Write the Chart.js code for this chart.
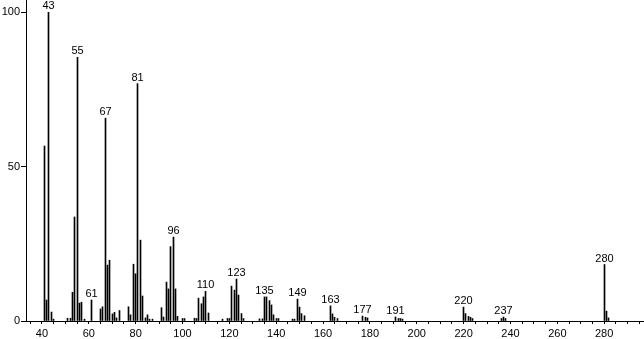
<!DOCTYPE html>
<html>
<head>
<meta charset="utf-8">
<script src="https://cdn.jsdelivr.net/npm/chart.js@4/dist/chart.umd.min.js"></script>
<style>
  html, body { margin: 0; padding: 0; background: #fff; }
  #wrap { width: 644px; height: 339px; }
</style>
</head>
<body>
<div id="wrap"><canvas id="msChart" width="644" height="339"></canvas></div>
<script>
"use strict";

// m/z of each peak
const masses = [
  41, 42, 43, 44, 45, 51, 52, 53, 54, 55, 56, 57, 58, 61,
  65, 66, 67, 68, 69, 70, 71, 72, 73,
  77, 78, 79, 80, 81, 82, 83, 84, 85, 86, 87,
  91, 92, 93, 94, 95, 96, 97, 98, 100, 101,
  105, 106, 107, 108, 109, 110, 111, 117,
  119, 120, 121, 122, 123, 124, 125, 126,
  133, 134, 135, 136, 137, 138, 139, 140, 141,
  147, 148, 149, 150, 151, 152,
  163, 164, 165, 166, 177, 178, 179, 191, 192, 193, 194,
  220, 221, 222, 223, 224, 236, 237, 238, 280, 281, 282
];

// relative abundance (%)
const abundance = [
  56.7, 6.8, 100, 2.9, 0.6, 0.9, 0.9, 9.3, 33.7, 85.4, 5.8, 6.1, 0.6, 6.8,
  3.9, 4.6, 65.7, 18.1, 19.7, 2.3, 2.8, 1.0, 3.4,
  4.6, 2.0, 18.4, 15.3, 76.9, 26.2, 8.1, 1.0, 2.0, 0.6, 0.6,
  4.3, 1.3, 12.6, 10.4, 24.1, 27.2, 10.4, 1.5, 0.8, 0.8,
  0.9, 0.8, 7.4, 5.6, 7.8, 9.6, 2.6, 0.6,
  0.8, 0.8, 11.3, 10.0, 13.6, 8.4, 2.4, 0.8,
  0.7, 0.7, 7.8, 7.8, 6.6, 5.2, 2.0, 0.8, 0.8,
  0.6, 0.6, 7.1, 4.5, 2.4, 1.7,
  4.9, 2.3, 1.2, 0.8, 1.6, 1.2, 1.0, 1.3, 0.8, 0.8, 0.6,
  4.5, 2.4, 1.5, 1.2, 0.8, 0.8, 1.3, 0.8, 18.3, 3.2, 1.0
];

// peaks that get a m/z label
const labelledPeaks = [43, 55, 61, 67, 81, 96, 110, 123, 135, 149, 163, 177, 191, 220, 237, 280];

const xLabelTicks = [40, 60, 80, 100, 120, 140, 160, 180, 200, 220, 240, 260, 280];
const yLabelTicks = [0, 50, 100];

const FONT = "Liberation Sans, Arial, sans-serif";

// snap the 1px bars onto whole pixels so they stay crisp
const crispBars = {
  id: 'crispBars',
  beforeDatasetsDraw: (chart) => {
    chart.getDatasetMeta(0).data.forEach((bar) => {
      bar.x = Math.floor(bar.x) + 0.5;
    });
  }
};

const peakLabels = {
  id: 'peakLabels',
  afterDatasetsDraw: (chart) => {
    const ctx = chart.ctx;
    const xs = chart.scales.x;
    const ys = chart.scales.y;
    ctx.save();
    ctx.fillStyle = '#000';
    ctx.font = '11px ' + FONT;
    ctx.textAlign = 'center';
    ctx.textBaseline = 'alphabetic';
    labelledPeaks.forEach((m) => {
      const i = masses.indexOf(m);
      const px = Math.floor(xs.getPixelForValue(m)) + 0.5;
      const py = ys.getPixelForValue(abundance[i]);
      ctx.fillText(String(m), px, py - 3);
    });
    ctx.restore();
  }
};

const ctx = document.getElementById('msChart').getContext('2d');
const msChart = new Chart(ctx, {
  type: 'bar',
  data: {
    datasets: [{
      data: masses.map((m, i) => ({ x: m, y: abundance[i] })),
      backgroundColor: '#000',
      borderWidth: 0,
      barThickness: 1
    }]
  },
  options: {
    responsive: false,
    animation: false,
    layout: { padding: 0 },
    plugins: {
      legend: { display: false },
      tooltip: { enabled: false }
    },
    scales: {
      x: {
        type: 'linear',
        offset: false,
        min: 33.2,
        max: 297,
        afterBuildTicks: (scale) => {
          const t = [];
          for (let v = 35; v <= 295; v += 5) t.push({ value: v });
          scale.ticks = t;
        },
        afterFit: (scale) => {
          scale.height = 18;
          scale.paddingLeft = 0;
          scale.paddingRight = 0;
        },
        border: { display: true, color: '#000', width: 1 },
        grid: {
          display: true,
          drawOnChartArea: false,
          offset: false,
          tickLength: 3,
          tickColor: '#000'
        },
        ticks: {
          autoSkip: false,
          maxRotation: 0,
          padding: 3,
          color: '#000',
          font: { family: FONT, size: 11 },
          callback: (v) => (xLabelTicks.includes(v) ? String(v) : '')
        }
      },
      y: {
        min: 0,
        max: 104,
        afterBuildTicks: (scale) => {
          scale.ticks = yLabelTicks.map(v => ({ value: v }));
        },
        afterFit: (scale) => {
          scale.width = 26;
          scale.paddingTop = 0;
          scale.paddingBottom = 0;
        },
        border: { display: true, color: '#000', width: 1 },
        grid: {
          display: true,
          drawOnChartArea: false,
          tickLength: 5,
          tickColor: '#000'
        },
        ticks: {
          padding: 1,
          color: '#000',
          font: { family: FONT, size: 11 }
        }
      }
    }
  },
  plugins: [crispBars, peakLabels]
});
</script>
</body>
</html>
